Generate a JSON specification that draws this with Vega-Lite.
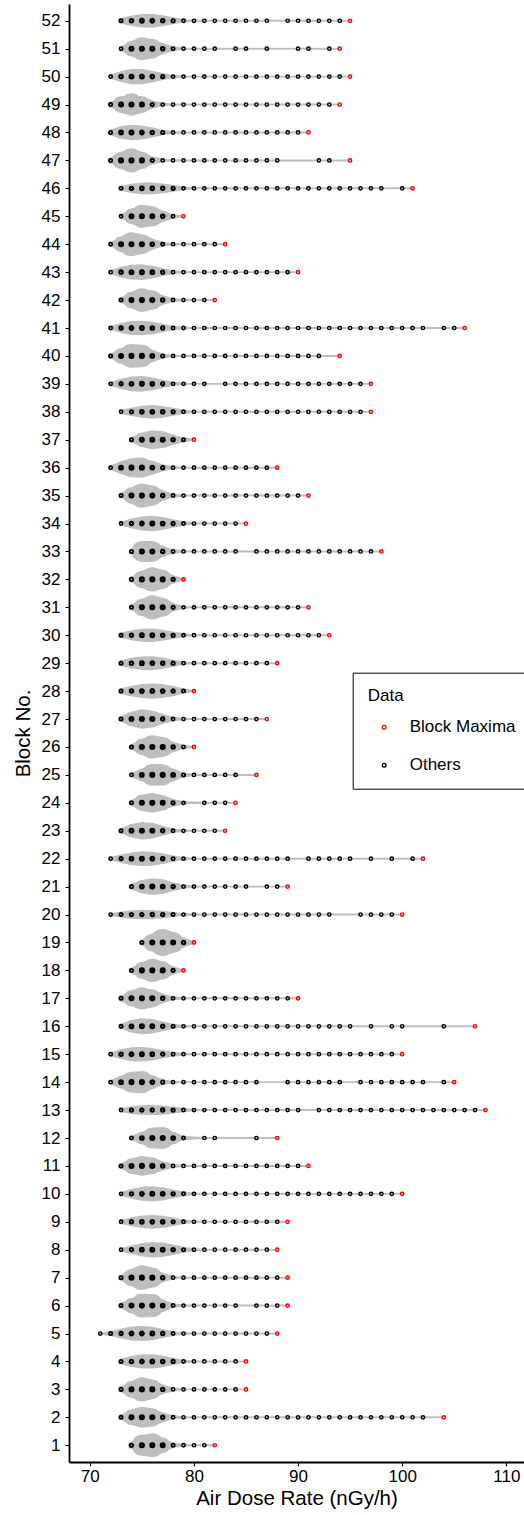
{
"$schema":"https://vega.github.io/schema/vega-lite/v6.json",
"width":455,"height":1458,
"autosize":{"type":"none"},
"padding":{"left":69,"top":4,"right":0,"bottom":53},
"config":{"view":{"stroke":null},"font":"Liberation Sans",
"axis":{"grid":false,"domainColor":"#000000","domainWidth":1.8,"tickColor":"#000000","tickWidth":1.1,"tickSize":4,"labelColor":"#000000","labelFontSize":17,"titleFontSize":20.5,"titleFontWeight":"normal","titleColor":"#000000","labelOverlap":false}},
"data":{"values":[
{"b":52,"v":73,"d":20,"m":0},{"b":52,"v":74,"d":38,"m":0},{"b":52,"v":75,"d":48,"m":0},{"b":52,"v":76,"d":50,"m":0},{"b":52,"v":77,"d":40,"m":0},{"b":52,"v":78,"d":25,"m":0},{"b":52,"v":79,"d":13,"m":0},{"b":52,"v":80,"d":8,"m":0},{"b":52,"v":81,"d":7,"m":0},{"b":52,"v":82,"d":7,"m":0},{"b":52,"v":83,"d":7,"m":0},{"b":52,"v":84,"d":7,"m":0},{"b":52,"v":85,"d":7,"m":0},{"b":52,"v":86,"d":7,"m":0},{"b":52,"v":87,"d":7,"m":0},{"b":52,"v":89,"d":7,"m":0},{"b":52,"v":90,"d":7,"m":0},{"b":52,"v":91,"d":7,"m":0},{"b":52,"v":92,"d":7,"m":0},{"b":52,"v":93,"d":7,"m":0},{"b":52,"v":94,"d":7,"m":0},{"b":52,"v":95,"d":7,"m":1},
{"b":51,"v":73,"d":15,"m":0},{"b":51,"v":74,"d":55,"m":0},{"b":51,"v":75,"d":82,"m":0},{"b":51,"v":76,"d":70,"m":0},{"b":51,"v":77,"d":40,"m":0},{"b":51,"v":78,"d":17,"m":0},{"b":51,"v":79,"d":9,"m":0},{"b":51,"v":80,"d":7,"m":0},{"b":51,"v":81,"d":7,"m":0},{"b":51,"v":82,"d":7,"m":0},{"b":51,"v":84,"d":7,"m":0},{"b":51,"v":85,"d":7,"m":0},{"b":51,"v":87,"d":7,"m":0},{"b":51,"v":90,"d":7,"m":0},{"b":51,"v":91,"d":7,"m":0},{"b":51,"v":93,"d":7,"m":0},{"b":51,"v":94,"d":7,"m":1},
{"b":50,"v":72,"d":15,"m":0},{"b":50,"v":73,"d":38,"m":0},{"b":50,"v":74,"d":55,"m":0},{"b":50,"v":75,"d":55,"m":0},{"b":50,"v":76,"d":42,"m":0},{"b":50,"v":77,"d":25,"m":0},{"b":50,"v":78,"d":12,"m":0},{"b":50,"v":79,"d":8,"m":0},{"b":50,"v":80,"d":7,"m":0},{"b":50,"v":81,"d":7,"m":0},{"b":50,"v":82,"d":7,"m":0},{"b":50,"v":83,"d":7,"m":0},{"b":50,"v":84,"d":7,"m":0},{"b":50,"v":85,"d":7,"m":0},{"b":50,"v":86,"d":7,"m":0},{"b":50,"v":87,"d":7,"m":0},{"b":50,"v":88,"d":7,"m":0},{"b":50,"v":89,"d":7,"m":0},{"b":50,"v":90,"d":7,"m":0},{"b":50,"v":91,"d":7,"m":0},{"b":50,"v":92,"d":7,"m":0},{"b":50,"v":93,"d":7,"m":0},{"b":50,"v":94,"d":7,"m":0},{"b":50,"v":95,"d":7,"m":1},
{"b":49,"v":72,"d":20,"m":0},{"b":49,"v":73,"d":60,"m":0},{"b":49,"v":74,"d":80,"m":0},{"b":49,"v":75,"d":60,"m":0},{"b":49,"v":76,"d":30,"m":0},{"b":49,"v":77,"d":12,"m":0},{"b":49,"v":78,"d":8,"m":0},{"b":49,"v":79,"d":7,"m":0},{"b":49,"v":80,"d":7,"m":0},{"b":49,"v":81,"d":7,"m":0},{"b":49,"v":82,"d":7,"m":0},{"b":49,"v":83,"d":7,"m":0},{"b":49,"v":84,"d":7,"m":0},{"b":49,"v":85,"d":7,"m":0},{"b":49,"v":86,"d":7,"m":0},{"b":49,"v":87,"d":7,"m":0},{"b":49,"v":88,"d":7,"m":0},{"b":49,"v":89,"d":7,"m":0},{"b":49,"v":90,"d":7,"m":0},{"b":49,"v":91,"d":7,"m":0},{"b":49,"v":92,"d":7,"m":0},{"b":49,"v":93,"d":7,"m":0},{"b":49,"v":94,"d":7,"m":1},
{"b":48,"v":72,"d":22,"m":0},{"b":48,"v":73,"d":45,"m":0},{"b":48,"v":74,"d":56,"m":0},{"b":48,"v":75,"d":50,"m":0},{"b":48,"v":76,"d":35,"m":0},{"b":48,"v":77,"d":20,"m":0},{"b":48,"v":78,"d":10,"m":0},{"b":48,"v":79,"d":7,"m":0},{"b":48,"v":80,"d":7,"m":0},{"b":48,"v":81,"d":7,"m":0},{"b":48,"v":82,"d":7,"m":0},{"b":48,"v":83,"d":7,"m":0},{"b":48,"v":84,"d":7,"m":0},{"b":48,"v":85,"d":7,"m":0},{"b":48,"v":86,"d":7,"m":0},{"b":48,"v":87,"d":7,"m":0},{"b":48,"v":88,"d":7,"m":0},{"b":48,"v":89,"d":7,"m":0},{"b":48,"v":90,"d":7,"m":0},{"b":48,"v":91,"d":7,"m":1},
{"b":47,"v":72,"d":20,"m":0},{"b":47,"v":73,"d":62,"m":0},{"b":47,"v":74,"d":86,"m":0},{"b":47,"v":75,"d":62,"m":0},{"b":47,"v":76,"d":30,"m":0},{"b":47,"v":77,"d":12,"m":0},{"b":47,"v":78,"d":8,"m":0},{"b":47,"v":79,"d":7,"m":0},{"b":47,"v":80,"d":7,"m":0},{"b":47,"v":81,"d":7,"m":0},{"b":47,"v":82,"d":7,"m":0},{"b":47,"v":83,"d":7,"m":0},{"b":47,"v":84,"d":7,"m":0},{"b":47,"v":85,"d":7,"m":0},{"b":47,"v":86,"d":7,"m":0},{"b":47,"v":87,"d":7,"m":0},{"b":47,"v":88,"d":7,"m":0},{"b":47,"v":92,"d":7,"m":0},{"b":47,"v":93,"d":7,"m":0},{"b":47,"v":95,"d":7,"m":1},
{"b":46,"v":73,"d":18,"m":0},{"b":46,"v":74,"d":33,"m":0},{"b":46,"v":75,"d":42,"m":0},{"b":46,"v":76,"d":42,"m":0},{"b":46,"v":77,"d":35,"m":0},{"b":46,"v":78,"d":24,"m":0},{"b":46,"v":79,"d":14,"m":0},{"b":46,"v":80,"d":9,"m":0},{"b":46,"v":81,"d":7,"m":0},{"b":46,"v":82,"d":7,"m":0},{"b":46,"v":83,"d":7,"m":0},{"b":46,"v":84,"d":7,"m":0},{"b":46,"v":85,"d":7,"m":0},{"b":46,"v":86,"d":7,"m":0},{"b":46,"v":87,"d":7,"m":0},{"b":46,"v":88,"d":7,"m":0},{"b":46,"v":89,"d":7,"m":0},{"b":46,"v":90,"d":7,"m":0},{"b":46,"v":91,"d":7,"m":0},{"b":46,"v":92,"d":7,"m":0},{"b":46,"v":93,"d":7,"m":0},{"b":46,"v":94,"d":7,"m":0},{"b":46,"v":95,"d":7,"m":0},{"b":46,"v":96,"d":7,"m":0},{"b":46,"v":97,"d":7,"m":0},{"b":46,"v":98,"d":7,"m":0},{"b":46,"v":100,"d":7,"m":0},{"b":46,"v":101,"d":7,"m":1},
{"b":45,"v":73,"d":15,"m":0},{"b":45,"v":74,"d":55,"m":0},{"b":45,"v":75,"d":82,"m":0},{"b":45,"v":76,"d":72,"m":0},{"b":45,"v":77,"d":42,"m":0},{"b":45,"v":78,"d":15,"m":0},{"b":45,"v":79,"d":7,"m":1},
{"b":44,"v":72,"d":15,"m":0},{"b":44,"v":73,"d":55,"m":0},{"b":44,"v":74,"d":86,"m":0},{"b":44,"v":75,"d":72,"m":0},{"b":44,"v":76,"d":40,"m":0},{"b":44,"v":77,"d":17,"m":0},{"b":44,"v":78,"d":9,"m":0},{"b":44,"v":79,"d":7,"m":0},{"b":44,"v":80,"d":7,"m":0},{"b":44,"v":81,"d":7,"m":0},{"b":44,"v":82,"d":7,"m":0},{"b":44,"v":83,"d":7,"m":1},
{"b":43,"v":72,"d":15,"m":0},{"b":43,"v":73,"d":38,"m":0},{"b":43,"v":74,"d":53,"m":0},{"b":43,"v":75,"d":56,"m":0},{"b":43,"v":76,"d":45,"m":0},{"b":43,"v":77,"d":28,"m":0},{"b":43,"v":78,"d":13,"m":0},{"b":43,"v":79,"d":8,"m":0},{"b":43,"v":80,"d":7,"m":0},{"b":43,"v":81,"d":7,"m":0},{"b":43,"v":82,"d":7,"m":0},{"b":43,"v":83,"d":7,"m":0},{"b":43,"v":84,"d":7,"m":0},{"b":43,"v":85,"d":7,"m":0},{"b":43,"v":86,"d":7,"m":0},{"b":43,"v":87,"d":7,"m":0},{"b":43,"v":88,"d":7,"m":0},{"b":43,"v":89,"d":7,"m":0},{"b":43,"v":90,"d":7,"m":1},
{"b":42,"v":73,"d":20,"m":0},{"b":42,"v":74,"d":60,"m":0},{"b":42,"v":75,"d":85,"m":0},{"b":42,"v":76,"d":70,"m":0},{"b":42,"v":77,"d":35,"m":0},{"b":42,"v":78,"d":14,"m":0},{"b":42,"v":79,"d":8,"m":0},{"b":42,"v":80,"d":7,"m":0},{"b":42,"v":81,"d":7,"m":0},{"b":42,"v":82,"d":7,"m":1},
{"b":41,"v":72,"d":15,"m":0},{"b":41,"v":73,"d":35,"m":0},{"b":41,"v":74,"d":50,"m":0},{"b":41,"v":75,"d":52,"m":0},{"b":41,"v":76,"d":45,"m":0},{"b":41,"v":77,"d":30,"m":0},{"b":41,"v":78,"d":16,"m":0},{"b":41,"v":79,"d":9,"m":0},{"b":41,"v":80,"d":7,"m":0},{"b":41,"v":81,"d":7,"m":0},{"b":41,"v":82,"d":7,"m":0},{"b":41,"v":83,"d":7,"m":0},{"b":41,"v":84,"d":7,"m":0},{"b":41,"v":85,"d":7,"m":0},{"b":41,"v":86,"d":7,"m":0},{"b":41,"v":87,"d":7,"m":0},{"b":41,"v":88,"d":7,"m":0},{"b":41,"v":89,"d":7,"m":0},{"b":41,"v":90,"d":7,"m":0},{"b":41,"v":91,"d":7,"m":0},{"b":41,"v":92,"d":7,"m":0},{"b":41,"v":93,"d":7,"m":0},{"b":41,"v":94,"d":7,"m":0},{"b":41,"v":95,"d":7,"m":0},{"b":41,"v":96,"d":7,"m":0},{"b":41,"v":97,"d":7,"m":0},{"b":41,"v":98,"d":7,"m":0},{"b":41,"v":99,"d":7,"m":0},{"b":41,"v":100,"d":7,"m":0},{"b":41,"v":101,"d":7,"m":0},{"b":41,"v":102,"d":7,"m":0},{"b":41,"v":104,"d":7,"m":0},{"b":41,"v":105,"d":7,"m":0},{"b":41,"v":106,"d":7,"m":1},
{"b":40,"v":72,"d":18,"m":0},{"b":40,"v":73,"d":55,"m":0},{"b":40,"v":74,"d":85,"m":0},{"b":40,"v":75,"d":80,"m":0},{"b":40,"v":76,"d":45,"m":0},{"b":40,"v":77,"d":18,"m":0},{"b":40,"v":78,"d":9,"m":0},{"b":40,"v":79,"d":7,"m":0},{"b":40,"v":80,"d":7,"m":0},{"b":40,"v":81,"d":7,"m":0},{"b":40,"v":82,"d":7,"m":0},{"b":40,"v":83,"d":7,"m":0},{"b":40,"v":84,"d":7,"m":0},{"b":40,"v":85,"d":7,"m":0},{"b":40,"v":86,"d":7,"m":0},{"b":40,"v":87,"d":7,"m":0},{"b":40,"v":88,"d":7,"m":0},{"b":40,"v":89,"d":7,"m":0},{"b":40,"v":90,"d":7,"m":0},{"b":40,"v":91,"d":7,"m":0},{"b":40,"v":92,"d":7,"m":0},{"b":40,"v":94,"d":7,"m":1},
{"b":39,"v":72,"d":15,"m":0},{"b":39,"v":73,"d":36,"m":0},{"b":39,"v":74,"d":52,"m":0},{"b":39,"v":75,"d":56,"m":0},{"b":39,"v":76,"d":46,"m":0},{"b":39,"v":77,"d":30,"m":0},{"b":39,"v":78,"d":15,"m":0},{"b":39,"v":79,"d":8,"m":0},{"b":39,"v":80,"d":7,"m":0},{"b":39,"v":81,"d":7,"m":0},{"b":39,"v":83,"d":7,"m":0},{"b":39,"v":84,"d":7,"m":0},{"b":39,"v":85,"d":7,"m":0},{"b":39,"v":86,"d":7,"m":0},{"b":39,"v":87,"d":7,"m":0},{"b":39,"v":88,"d":7,"m":0},{"b":39,"v":89,"d":7,"m":0},{"b":39,"v":90,"d":7,"m":0},{"b":39,"v":91,"d":7,"m":0},{"b":39,"v":92,"d":7,"m":0},{"b":39,"v":93,"d":7,"m":0},{"b":39,"v":94,"d":7,"m":0},{"b":39,"v":95,"d":7,"m":0},{"b":39,"v":96,"d":7,"m":0},{"b":39,"v":97,"d":7,"m":1},
{"b":38,"v":73,"d":15,"m":0},{"b":38,"v":74,"d":30,"m":0},{"b":38,"v":75,"d":43,"m":0},{"b":38,"v":76,"d":48,"m":0},{"b":38,"v":77,"d":42,"m":0},{"b":38,"v":78,"d":28,"m":0},{"b":38,"v":79,"d":15,"m":0},{"b":38,"v":80,"d":8,"m":0},{"b":38,"v":81,"d":7,"m":0},{"b":38,"v":82,"d":7,"m":0},{"b":38,"v":83,"d":7,"m":0},{"b":38,"v":84,"d":7,"m":0},{"b":38,"v":85,"d":7,"m":0},{"b":38,"v":86,"d":7,"m":0},{"b":38,"v":87,"d":7,"m":0},{"b":38,"v":88,"d":7,"m":0},{"b":38,"v":89,"d":7,"m":0},{"b":38,"v":90,"d":7,"m":0},{"b":38,"v":91,"d":7,"m":0},{"b":38,"v":92,"d":7,"m":0},{"b":38,"v":93,"d":7,"m":0},{"b":38,"v":94,"d":7,"m":0},{"b":38,"v":95,"d":7,"m":0},{"b":38,"v":96,"d":7,"m":0},{"b":38,"v":97,"d":7,"m":1},
{"b":37,"v":74,"d":20,"m":0},{"b":37,"v":75,"d":52,"m":0},{"b":37,"v":76,"d":68,"m":0},{"b":37,"v":77,"d":60,"m":0},{"b":37,"v":78,"d":38,"m":0},{"b":37,"v":79,"d":18,"m":0},{"b":37,"v":80,"d":7,"m":1},
{"b":36,"v":72,"d":15,"m":0},{"b":36,"v":73,"d":45,"m":0},{"b":36,"v":74,"d":68,"m":0},{"b":36,"v":75,"d":72,"m":0},{"b":36,"v":76,"d":50,"m":0},{"b":36,"v":77,"d":25,"m":0},{"b":36,"v":78,"d":11,"m":0},{"b":36,"v":79,"d":7,"m":0},{"b":36,"v":80,"d":7,"m":0},{"b":36,"v":81,"d":7,"m":0},{"b":36,"v":82,"d":7,"m":0},{"b":36,"v":83,"d":7,"m":0},{"b":36,"v":84,"d":7,"m":0},{"b":36,"v":85,"d":7,"m":0},{"b":36,"v":86,"d":7,"m":0},{"b":36,"v":87,"d":7,"m":0},{"b":36,"v":88,"d":7,"m":1},
{"b":35,"v":73,"d":18,"m":0},{"b":35,"v":74,"d":60,"m":0},{"b":35,"v":75,"d":87,"m":0},{"b":35,"v":76,"d":72,"m":0},{"b":35,"v":77,"d":38,"m":0},{"b":35,"v":78,"d":15,"m":0},{"b":35,"v":79,"d":8,"m":0},{"b":35,"v":80,"d":7,"m":0},{"b":35,"v":81,"d":7,"m":0},{"b":35,"v":82,"d":7,"m":0},{"b":35,"v":83,"d":7,"m":0},{"b":35,"v":84,"d":7,"m":0},{"b":35,"v":85,"d":7,"m":0},{"b":35,"v":86,"d":7,"m":0},{"b":35,"v":87,"d":7,"m":0},{"b":35,"v":88,"d":7,"m":0},{"b":35,"v":89,"d":7,"m":0},{"b":35,"v":90,"d":7,"m":0},{"b":35,"v":91,"d":7,"m":1},
{"b":34,"v":73,"d":15,"m":0},{"b":34,"v":74,"d":36,"m":0},{"b":34,"v":75,"d":50,"m":0},{"b":34,"v":76,"d":55,"m":0},{"b":34,"v":77,"d":47,"m":0},{"b":34,"v":78,"d":30,"m":0},{"b":34,"v":79,"d":16,"m":0},{"b":34,"v":80,"d":9,"m":0},{"b":34,"v":81,"d":7,"m":0},{"b":34,"v":82,"d":7,"m":0},{"b":34,"v":83,"d":7,"m":0},{"b":34,"v":84,"d":7,"m":0},{"b":34,"v":85,"d":7,"m":1},
{"b":33,"v":74,"d":20,"m":0},{"b":33,"v":75,"d":75,"m":0},{"b":33,"v":76,"d":75,"m":0},{"b":33,"v":77,"d":40,"m":0},{"b":33,"v":78,"d":16,"m":0},{"b":33,"v":79,"d":8,"m":0},{"b":33,"v":80,"d":7,"m":0},{"b":33,"v":81,"d":7,"m":0},{"b":33,"v":82,"d":7,"m":0},{"b":33,"v":83,"d":7,"m":0},{"b":33,"v":84,"d":7,"m":0},{"b":33,"v":86,"d":7,"m":0},{"b":33,"v":87,"d":7,"m":0},{"b":33,"v":88,"d":7,"m":0},{"b":33,"v":89,"d":7,"m":0},{"b":33,"v":90,"d":7,"m":0},{"b":33,"v":91,"d":7,"m":0},{"b":33,"v":92,"d":7,"m":0},{"b":33,"v":93,"d":7,"m":0},{"b":33,"v":94,"d":7,"m":0},{"b":33,"v":95,"d":7,"m":0},{"b":33,"v":96,"d":7,"m":0},{"b":33,"v":97,"d":7,"m":0},{"b":33,"v":98,"d":7,"m":1},
{"b":32,"v":74,"d":20,"m":0},{"b":32,"v":75,"d":62,"m":0},{"b":32,"v":76,"d":87,"m":0},{"b":32,"v":77,"d":68,"m":0},{"b":32,"v":78,"d":30,"m":0},{"b":32,"v":79,"d":9,"m":1},
{"b":31,"v":74,"d":20,"m":0},{"b":31,"v":75,"d":62,"m":0},{"b":31,"v":76,"d":87,"m":0},{"b":31,"v":77,"d":68,"m":0},{"b":31,"v":78,"d":30,"m":0},{"b":31,"v":79,"d":10,"m":0},{"b":31,"v":80,"d":7,"m":0},{"b":31,"v":81,"d":7,"m":0},{"b":31,"v":82,"d":7,"m":0},{"b":31,"v":83,"d":7,"m":0},{"b":31,"v":84,"d":7,"m":0},{"b":31,"v":85,"d":7,"m":0},{"b":31,"v":86,"d":7,"m":0},{"b":31,"v":87,"d":7,"m":0},{"b":31,"v":88,"d":7,"m":0},{"b":31,"v":89,"d":7,"m":0},{"b":31,"v":90,"d":7,"m":0},{"b":31,"v":91,"d":7,"m":1},
{"b":30,"v":73,"d":20,"m":0},{"b":30,"v":74,"d":36,"m":0},{"b":30,"v":75,"d":46,"m":0},{"b":30,"v":76,"d":48,"m":0},{"b":30,"v":77,"d":40,"m":0},{"b":30,"v":78,"d":26,"m":0},{"b":30,"v":79,"d":14,"m":0},{"b":30,"v":80,"d":8,"m":0},{"b":30,"v":81,"d":7,"m":0},{"b":30,"v":82,"d":7,"m":0},{"b":30,"v":83,"d":7,"m":0},{"b":30,"v":84,"d":7,"m":0},{"b":30,"v":85,"d":7,"m":0},{"b":30,"v":86,"d":7,"m":0},{"b":30,"v":87,"d":7,"m":0},{"b":30,"v":88,"d":7,"m":0},{"b":30,"v":89,"d":7,"m":0},{"b":30,"v":90,"d":7,"m":0},{"b":30,"v":91,"d":7,"m":0},{"b":30,"v":92,"d":7,"m":0},{"b":30,"v":93,"d":7,"m":1},
{"b":29,"v":73,"d":20,"m":0},{"b":29,"v":74,"d":38,"m":0},{"b":29,"v":75,"d":48,"m":0},{"b":29,"v":76,"d":50,"m":0},{"b":29,"v":77,"d":40,"m":0},{"b":29,"v":78,"d":25,"m":0},{"b":29,"v":79,"d":12,"m":0},{"b":29,"v":80,"d":7,"m":0},{"b":29,"v":81,"d":7,"m":0},{"b":29,"v":82,"d":7,"m":0},{"b":29,"v":83,"d":7,"m":0},{"b":29,"v":84,"d":7,"m":0},{"b":29,"v":85,"d":7,"m":0},{"b":29,"v":86,"d":7,"m":0},{"b":29,"v":87,"d":7,"m":0},{"b":29,"v":88,"d":7,"m":1},
{"b":28,"v":73,"d":20,"m":0},{"b":28,"v":74,"d":38,"m":0},{"b":28,"v":75,"d":50,"m":0},{"b":28,"v":76,"d":54,"m":0},{"b":28,"v":77,"d":50,"m":0},{"b":28,"v":78,"d":36,"m":0},{"b":28,"v":79,"d":18,"m":0},{"b":28,"v":80,"d":7,"m":1},
{"b":27,"v":73,"d":20,"m":0},{"b":27,"v":74,"d":52,"m":0},{"b":27,"v":75,"d":69,"m":0},{"b":27,"v":76,"d":60,"m":0},{"b":27,"v":77,"d":36,"m":0},{"b":27,"v":78,"d":16,"m":0},{"b":27,"v":79,"d":8,"m":0},{"b":27,"v":80,"d":7,"m":0},{"b":27,"v":81,"d":7,"m":0},{"b":27,"v":82,"d":7,"m":0},{"b":27,"v":83,"d":7,"m":0},{"b":27,"v":84,"d":7,"m":0},{"b":27,"v":85,"d":7,"m":0},{"b":27,"v":86,"d":7,"m":0},{"b":27,"v":87,"d":7,"m":1},
{"b":26,"v":74,"d":20,"m":0},{"b":26,"v":75,"d":58,"m":0},{"b":26,"v":76,"d":83,"m":0},{"b":26,"v":77,"d":72,"m":0},{"b":26,"v":78,"d":38,"m":0},{"b":26,"v":79,"d":14,"m":0},{"b":26,"v":80,"d":7,"m":1},
{"b":25,"v":74,"d":15,"m":0},{"b":25,"v":75,"d":45,"m":0},{"b":25,"v":76,"d":78,"m":0},{"b":25,"v":77,"d":76,"m":0},{"b":25,"v":78,"d":45,"m":0},{"b":25,"v":79,"d":18,"m":0},{"b":25,"v":80,"d":8,"m":0},{"b":25,"v":81,"d":7,"m":0},{"b":25,"v":82,"d":7,"m":0},{"b":25,"v":83,"d":7,"m":0},{"b":25,"v":84,"d":7,"m":0},{"b":25,"v":86,"d":7,"m":1},
{"b":24,"v":74,"d":20,"m":0},{"b":24,"v":75,"d":58,"m":0},{"b":24,"v":76,"d":71,"m":0},{"b":24,"v":77,"d":55,"m":0},{"b":24,"v":78,"d":28,"m":0},{"b":24,"v":79,"d":11,"m":0},{"b":24,"v":81,"d":7,"m":0},{"b":24,"v":82,"d":7,"m":0},{"b":24,"v":83,"d":7,"m":0},{"b":24,"v":84,"d":7,"m":1},
{"b":23,"v":73,"d":20,"m":0},{"b":23,"v":74,"d":48,"m":0},{"b":23,"v":75,"d":62,"m":0},{"b":23,"v":76,"d":55,"m":0},{"b":23,"v":77,"d":35,"m":0},{"b":23,"v":78,"d":16,"m":0},{"b":23,"v":79,"d":8,"m":0},{"b":23,"v":80,"d":7,"m":0},{"b":23,"v":81,"d":7,"m":0},{"b":23,"v":82,"d":7,"m":0},{"b":23,"v":83,"d":7,"m":1},
{"b":22,"v":72,"d":12,"m":0},{"b":22,"v":73,"d":30,"m":0},{"b":22,"v":74,"d":45,"m":0},{"b":22,"v":75,"d":53,"m":0},{"b":22,"v":76,"d":50,"m":0},{"b":22,"v":77,"d":38,"m":0},{"b":22,"v":78,"d":22,"m":0},{"b":22,"v":79,"d":12,"m":0},{"b":22,"v":80,"d":8,"m":0},{"b":22,"v":81,"d":7,"m":0},{"b":22,"v":82,"d":7,"m":0},{"b":22,"v":83,"d":7,"m":0},{"b":22,"v":84,"d":7,"m":0},{"b":22,"v":85,"d":7,"m":0},{"b":22,"v":86,"d":7,"m":0},{"b":22,"v":87,"d":7,"m":0},{"b":22,"v":88,"d":7,"m":0},{"b":22,"v":89,"d":7,"m":0},{"b":22,"v":91,"d":7,"m":0},{"b":22,"v":92,"d":7,"m":0},{"b":22,"v":93,"d":7,"m":0},{"b":22,"v":94,"d":7,"m":0},{"b":22,"v":95,"d":7,"m":0},{"b":22,"v":97,"d":7,"m":0},{"b":22,"v":99,"d":7,"m":0},{"b":22,"v":101,"d":7,"m":0},{"b":22,"v":102,"d":7,"m":1},
{"b":21,"v":74,"d":20,"m":0},{"b":21,"v":75,"d":48,"m":0},{"b":21,"v":76,"d":60,"m":0},{"b":21,"v":77,"d":52,"m":0},{"b":21,"v":78,"d":32,"m":0},{"b":21,"v":79,"d":15,"m":0},{"b":21,"v":80,"d":8,"m":0},{"b":21,"v":81,"d":7,"m":0},{"b":21,"v":82,"d":7,"m":0},{"b":21,"v":83,"d":7,"m":0},{"b":21,"v":84,"d":7,"m":0},{"b":21,"v":85,"d":7,"m":0},{"b":21,"v":87,"d":7,"m":0},{"b":21,"v":88,"d":7,"m":0},{"b":21,"v":89,"d":7,"m":1},
{"b":20,"v":72,"d":10,"m":0},{"b":20,"v":73,"d":22,"m":0},{"b":20,"v":74,"d":30,"m":0},{"b":20,"v":75,"d":34,"m":0},{"b":20,"v":76,"d":33,"m":0},{"b":20,"v":77,"d":27,"m":0},{"b":20,"v":78,"d":18,"m":0},{"b":20,"v":79,"d":11,"m":0},{"b":20,"v":80,"d":8,"m":0},{"b":20,"v":81,"d":7,"m":0},{"b":20,"v":82,"d":7,"m":0},{"b":20,"v":83,"d":7,"m":0},{"b":20,"v":84,"d":7,"m":0},{"b":20,"v":85,"d":7,"m":0},{"b":20,"v":86,"d":7,"m":0},{"b":20,"v":87,"d":7,"m":0},{"b":20,"v":88,"d":7,"m":0},{"b":20,"v":89,"d":7,"m":0},{"b":20,"v":90,"d":7,"m":0},{"b":20,"v":91,"d":7,"m":0},{"b":20,"v":92,"d":7,"m":0},{"b":20,"v":93,"d":7,"m":0},{"b":20,"v":96,"d":7,"m":0},{"b":20,"v":97,"d":7,"m":0},{"b":20,"v":98,"d":7,"m":0},{"b":20,"v":99,"d":7,"m":0},{"b":20,"v":100,"d":7,"m":1},
{"b":19,"v":75,"d":20,"m":0},{"b":19,"v":76,"d":65,"m":0},{"b":19,"v":77,"d":97,"m":0},{"b":19,"v":78,"d":75,"m":0},{"b":19,"v":79,"d":35,"m":0},{"b":19,"v":80,"d":10,"m":1},
{"b":18,"v":74,"d":20,"m":0},{"b":18,"v":75,"d":60,"m":0},{"b":18,"v":76,"d":83,"m":0},{"b":18,"v":77,"d":65,"m":0},{"b":18,"v":78,"d":30,"m":0},{"b":18,"v":79,"d":9,"m":1},
{"b":17,"v":73,"d":20,"m":0},{"b":17,"v":74,"d":58,"m":0},{"b":17,"v":75,"d":80,"m":0},{"b":17,"v":76,"d":65,"m":0},{"b":17,"v":77,"d":35,"m":0},{"b":17,"v":78,"d":14,"m":0},{"b":17,"v":79,"d":8,"m":0},{"b":17,"v":80,"d":7,"m":0},{"b":17,"v":81,"d":7,"m":0},{"b":17,"v":82,"d":7,"m":0},{"b":17,"v":83,"d":7,"m":0},{"b":17,"v":84,"d":7,"m":0},{"b":17,"v":85,"d":7,"m":0},{"b":17,"v":86,"d":7,"m":0},{"b":17,"v":87,"d":7,"m":0},{"b":17,"v":88,"d":7,"m":0},{"b":17,"v":89,"d":7,"m":0},{"b":17,"v":90,"d":7,"m":1},
{"b":16,"v":73,"d":18,"m":0},{"b":16,"v":74,"d":45,"m":0},{"b":16,"v":75,"d":57,"m":0},{"b":16,"v":76,"d":52,"m":0},{"b":16,"v":77,"d":35,"m":0},{"b":16,"v":78,"d":18,"m":0},{"b":16,"v":79,"d":9,"m":0},{"b":16,"v":80,"d":7,"m":0},{"b":16,"v":81,"d":7,"m":0},{"b":16,"v":82,"d":7,"m":0},{"b":16,"v":83,"d":7,"m":0},{"b":16,"v":84,"d":7,"m":0},{"b":16,"v":85,"d":7,"m":0},{"b":16,"v":86,"d":7,"m":0},{"b":16,"v":87,"d":7,"m":0},{"b":16,"v":88,"d":7,"m":0},{"b":16,"v":89,"d":7,"m":0},{"b":16,"v":90,"d":7,"m":0},{"b":16,"v":91,"d":7,"m":0},{"b":16,"v":92,"d":7,"m":0},{"b":16,"v":93,"d":7,"m":0},{"b":16,"v":94,"d":7,"m":0},{"b":16,"v":95,"d":7,"m":0},{"b":16,"v":97,"d":7,"m":0},{"b":16,"v":99,"d":7,"m":0},{"b":16,"v":100,"d":7,"m":0},{"b":16,"v":104,"d":7,"m":0},{"b":16,"v":107,"d":7,"m":1},
{"b":15,"v":72,"d":15,"m":0},{"b":15,"v":73,"d":35,"m":0},{"b":15,"v":74,"d":50,"m":0},{"b":15,"v":75,"d":52,"m":0},{"b":15,"v":76,"d":45,"m":0},{"b":15,"v":77,"d":30,"m":0},{"b":15,"v":78,"d":16,"m":0},{"b":15,"v":79,"d":9,"m":0},{"b":15,"v":80,"d":7,"m":0},{"b":15,"v":81,"d":7,"m":0},{"b":15,"v":82,"d":7,"m":0},{"b":15,"v":83,"d":7,"m":0},{"b":15,"v":84,"d":7,"m":0},{"b":15,"v":85,"d":7,"m":0},{"b":15,"v":86,"d":7,"m":0},{"b":15,"v":87,"d":7,"m":0},{"b":15,"v":88,"d":7,"m":0},{"b":15,"v":89,"d":7,"m":0},{"b":15,"v":90,"d":7,"m":0},{"b":15,"v":91,"d":7,"m":0},{"b":15,"v":92,"d":7,"m":0},{"b":15,"v":93,"d":7,"m":0},{"b":15,"v":94,"d":7,"m":0},{"b":15,"v":95,"d":7,"m":0},{"b":15,"v":96,"d":7,"m":0},{"b":15,"v":97,"d":7,"m":0},{"b":15,"v":98,"d":7,"m":0},{"b":15,"v":99,"d":7,"m":0},{"b":15,"v":100,"d":7,"m":1},
{"b":14,"v":72,"d":15,"m":0},{"b":14,"v":73,"d":45,"m":0},{"b":14,"v":74,"d":75,"m":0},{"b":14,"v":75,"d":80,"m":0},{"b":14,"v":76,"d":50,"m":0},{"b":14,"v":77,"d":20,"m":0},{"b":14,"v":78,"d":9,"m":0},{"b":14,"v":79,"d":7,"m":0},{"b":14,"v":80,"d":7,"m":0},{"b":14,"v":81,"d":7,"m":0},{"b":14,"v":82,"d":7,"m":0},{"b":14,"v":83,"d":7,"m":0},{"b":14,"v":84,"d":7,"m":0},{"b":14,"v":85,"d":7,"m":0},{"b":14,"v":86,"d":7,"m":0},{"b":14,"v":89,"d":7,"m":0},{"b":14,"v":90,"d":7,"m":0},{"b":14,"v":91,"d":7,"m":0},{"b":14,"v":92,"d":7,"m":0},{"b":14,"v":93,"d":7,"m":0},{"b":14,"v":94,"d":7,"m":0},{"b":14,"v":96,"d":7,"m":0},{"b":14,"v":97,"d":7,"m":0},{"b":14,"v":98,"d":7,"m":0},{"b":14,"v":99,"d":7,"m":0},{"b":14,"v":100,"d":7,"m":0},{"b":14,"v":101,"d":7,"m":0},{"b":14,"v":102,"d":7,"m":0},{"b":14,"v":104,"d":7,"m":0},{"b":14,"v":105,"d":7,"m":1},
{"b":13,"v":73,"d":15,"m":0},{"b":13,"v":74,"d":28,"m":0},{"b":13,"v":75,"d":34,"m":0},{"b":13,"v":76,"d":36,"m":0},{"b":13,"v":77,"d":33,"m":0},{"b":13,"v":78,"d":25,"m":0},{"b":13,"v":79,"d":15,"m":0},{"b":13,"v":80,"d":9,"m":0},{"b":13,"v":81,"d":7,"m":0},{"b":13,"v":82,"d":7,"m":0},{"b":13,"v":83,"d":7,"m":0},{"b":13,"v":84,"d":7,"m":0},{"b":13,"v":85,"d":7,"m":0},{"b":13,"v":86,"d":7,"m":0},{"b":13,"v":87,"d":7,"m":0},{"b":13,"v":88,"d":7,"m":0},{"b":13,"v":89,"d":7,"m":0},{"b":13,"v":90,"d":7,"m":0},{"b":13,"v":92,"d":7,"m":0},{"b":13,"v":93,"d":7,"m":0},{"b":13,"v":94,"d":7,"m":0},{"b":13,"v":95,"d":7,"m":0},{"b":13,"v":96,"d":7,"m":0},{"b":13,"v":97,"d":7,"m":0},{"b":13,"v":98,"d":7,"m":0},{"b":13,"v":99,"d":7,"m":0},{"b":13,"v":100,"d":7,"m":0},{"b":13,"v":101,"d":7,"m":0},{"b":13,"v":102,"d":7,"m":0},{"b":13,"v":103,"d":7,"m":0},{"b":13,"v":104,"d":7,"m":0},{"b":13,"v":105,"d":7,"m":0},{"b":13,"v":106,"d":7,"m":0},{"b":13,"v":107,"d":7,"m":0},{"b":13,"v":108,"d":7,"m":1},
{"b":12,"v":74,"d":15,"m":0},{"b":12,"v":75,"d":45,"m":0},{"b":12,"v":76,"d":75,"m":0},{"b":12,"v":77,"d":78,"m":0},{"b":12,"v":78,"d":45,"m":0},{"b":12,"v":79,"d":15,"m":0},{"b":12,"v":81,"d":7,"m":0},{"b":12,"v":82,"d":7,"m":0},{"b":12,"v":86,"d":7,"m":0},{"b":12,"v":88,"d":7,"m":1},
{"b":11,"v":73,"d":20,"m":0},{"b":11,"v":74,"d":55,"m":0},{"b":11,"v":75,"d":71,"m":0},{"b":11,"v":76,"d":60,"m":0},{"b":11,"v":77,"d":33,"m":0},{"b":11,"v":78,"d":14,"m":0},{"b":11,"v":79,"d":8,"m":0},{"b":11,"v":80,"d":7,"m":0},{"b":11,"v":81,"d":7,"m":0},{"b":11,"v":82,"d":7,"m":0},{"b":11,"v":83,"d":7,"m":0},{"b":11,"v":84,"d":7,"m":0},{"b":11,"v":85,"d":7,"m":0},{"b":11,"v":86,"d":7,"m":0},{"b":11,"v":87,"d":7,"m":0},{"b":11,"v":88,"d":7,"m":0},{"b":11,"v":89,"d":7,"m":0},{"b":11,"v":90,"d":7,"m":0},{"b":11,"v":91,"d":7,"m":1},
{"b":10,"v":73,"d":15,"m":0},{"b":10,"v":74,"d":35,"m":0},{"b":10,"v":75,"d":50,"m":0},{"b":10,"v":76,"d":55,"m":0},{"b":10,"v":77,"d":48,"m":0},{"b":10,"v":78,"d":32,"m":0},{"b":10,"v":79,"d":17,"m":0},{"b":10,"v":80,"d":9,"m":0},{"b":10,"v":81,"d":7,"m":0},{"b":10,"v":82,"d":7,"m":0},{"b":10,"v":83,"d":7,"m":0},{"b":10,"v":84,"d":7,"m":0},{"b":10,"v":85,"d":7,"m":0},{"b":10,"v":86,"d":7,"m":0},{"b":10,"v":87,"d":7,"m":0},{"b":10,"v":88,"d":7,"m":0},{"b":10,"v":89,"d":7,"m":0},{"b":10,"v":90,"d":7,"m":0},{"b":10,"v":91,"d":7,"m":0},{"b":10,"v":92,"d":7,"m":0},{"b":10,"v":93,"d":7,"m":0},{"b":10,"v":94,"d":7,"m":0},{"b":10,"v":95,"d":7,"m":0},{"b":10,"v":96,"d":7,"m":0},{"b":10,"v":97,"d":7,"m":0},{"b":10,"v":98,"d":7,"m":0},{"b":10,"v":99,"d":7,"m":0},{"b":10,"v":100,"d":7,"m":1},
{"b":9,"v":73,"d":15,"m":0},{"b":9,"v":74,"d":32,"m":0},{"b":9,"v":75,"d":45,"m":0},{"b":9,"v":76,"d":49,"m":0},{"b":9,"v":77,"d":44,"m":0},{"b":9,"v":78,"d":30,"m":0},{"b":9,"v":79,"d":16,"m":0},{"b":9,"v":80,"d":9,"m":0},{"b":9,"v":81,"d":7,"m":0},{"b":9,"v":82,"d":7,"m":0},{"b":9,"v":83,"d":7,"m":0},{"b":9,"v":84,"d":7,"m":0},{"b":9,"v":85,"d":7,"m":0},{"b":9,"v":86,"d":7,"m":0},{"b":9,"v":87,"d":7,"m":0},{"b":9,"v":88,"d":7,"m":0},{"b":9,"v":89,"d":7,"m":1},
{"b":8,"v":73,"d":12,"m":0},{"b":8,"v":74,"d":30,"m":0},{"b":8,"v":75,"d":48,"m":0},{"b":8,"v":76,"d":56,"m":0},{"b":8,"v":77,"d":52,"m":0},{"b":8,"v":78,"d":38,"m":0},{"b":8,"v":79,"d":22,"m":0},{"b":8,"v":80,"d":11,"m":0},{"b":8,"v":81,"d":7,"m":0},{"b":8,"v":82,"d":7,"m":0},{"b":8,"v":83,"d":7,"m":0},{"b":8,"v":84,"d":7,"m":0},{"b":8,"v":85,"d":7,"m":0},{"b":8,"v":86,"d":7,"m":0},{"b":8,"v":87,"d":7,"m":0},{"b":8,"v":88,"d":7,"m":1},
{"b":7,"v":73,"d":20,"m":0},{"b":7,"v":74,"d":62,"m":0},{"b":7,"v":75,"d":89,"m":0},{"b":7,"v":76,"d":72,"m":0},{"b":7,"v":77,"d":35,"m":0},{"b":7,"v":78,"d":12,"m":0},{"b":7,"v":79,"d":7,"m":0},{"b":7,"v":80,"d":7,"m":0},{"b":7,"v":81,"d":7,"m":0},{"b":7,"v":82,"d":7,"m":0},{"b":7,"v":83,"d":7,"m":0},{"b":7,"v":84,"d":7,"m":0},{"b":7,"v":85,"d":7,"m":0},{"b":7,"v":86,"d":7,"m":0},{"b":7,"v":87,"d":7,"m":0},{"b":7,"v":88,"d":7,"m":0},{"b":7,"v":89,"d":7,"m":1},
{"b":6,"v":73,"d":20,"m":0},{"b":6,"v":74,"d":55,"m":0},{"b":6,"v":75,"d":85,"m":0},{"b":6,"v":76,"d":82,"m":0},{"b":6,"v":77,"d":45,"m":0},{"b":6,"v":78,"d":16,"m":0},{"b":6,"v":79,"d":8,"m":0},{"b":6,"v":80,"d":7,"m":0},{"b":6,"v":81,"d":7,"m":0},{"b":6,"v":82,"d":7,"m":0},{"b":6,"v":83,"d":7,"m":0},{"b":6,"v":84,"d":7,"m":0},{"b":6,"v":86,"d":7,"m":0},{"b":6,"v":87,"d":7,"m":0},{"b":6,"v":88,"d":7,"m":0},{"b":6,"v":89,"d":7,"m":1},
{"b":5,"v":71,"d":8,"m":0},{"b":5,"v":72,"d":18,"m":0},{"b":5,"v":73,"d":36,"m":0},{"b":5,"v":74,"d":50,"m":0},{"b":5,"v":75,"d":54,"m":0},{"b":5,"v":76,"d":48,"m":0},{"b":5,"v":77,"d":32,"m":0},{"b":5,"v":78,"d":17,"m":0},{"b":5,"v":79,"d":9,"m":0},{"b":5,"v":80,"d":7,"m":0},{"b":5,"v":81,"d":7,"m":0},{"b":5,"v":82,"d":7,"m":0},{"b":5,"v":83,"d":7,"m":0},{"b":5,"v":84,"d":7,"m":0},{"b":5,"v":85,"d":7,"m":0},{"b":5,"v":86,"d":7,"m":0},{"b":5,"v":87,"d":7,"m":0},{"b":5,"v":88,"d":7,"m":1},
{"b":4,"v":73,"d":20,"m":0},{"b":4,"v":74,"d":40,"m":0},{"b":4,"v":75,"d":50,"m":0},{"b":4,"v":76,"d":51,"m":0},{"b":4,"v":77,"d":42,"m":0},{"b":4,"v":78,"d":26,"m":0},{"b":4,"v":79,"d":13,"m":0},{"b":4,"v":80,"d":8,"m":0},{"b":4,"v":81,"d":7,"m":0},{"b":4,"v":82,"d":7,"m":0},{"b":4,"v":83,"d":7,"m":0},{"b":4,"v":84,"d":7,"m":0},{"b":4,"v":85,"d":7,"m":1},
{"b":3,"v":73,"d":20,"m":0},{"b":3,"v":74,"d":60,"m":0},{"b":3,"v":75,"d":86,"m":0},{"b":3,"v":76,"d":70,"m":0},{"b":3,"v":77,"d":35,"m":0},{"b":3,"v":78,"d":13,"m":0},{"b":3,"v":79,"d":7,"m":0},{"b":3,"v":80,"d":7,"m":0},{"b":3,"v":81,"d":7,"m":0},{"b":3,"v":82,"d":7,"m":0},{"b":3,"v":83,"d":7,"m":0},{"b":3,"v":84,"d":7,"m":0},{"b":3,"v":85,"d":7,"m":1},
{"b":2,"v":73,"d":20,"m":0},{"b":2,"v":74,"d":55,"m":0},{"b":2,"v":75,"d":75,"m":0},{"b":2,"v":76,"d":65,"m":0},{"b":2,"v":77,"d":35,"m":0},{"b":2,"v":78,"d":14,"m":0},{"b":2,"v":79,"d":8,"m":0},{"b":2,"v":80,"d":7,"m":0},{"b":2,"v":81,"d":7,"m":0},{"b":2,"v":82,"d":7,"m":0},{"b":2,"v":83,"d":7,"m":0},{"b":2,"v":84,"d":7,"m":0},{"b":2,"v":85,"d":7,"m":0},{"b":2,"v":86,"d":7,"m":0},{"b":2,"v":87,"d":7,"m":0},{"b":2,"v":88,"d":7,"m":0},{"b":2,"v":89,"d":7,"m":0},{"b":2,"v":90,"d":7,"m":0},{"b":2,"v":91,"d":7,"m":0},{"b":2,"v":92,"d":7,"m":0},{"b":2,"v":93,"d":7,"m":0},{"b":2,"v":94,"d":7,"m":0},{"b":2,"v":95,"d":7,"m":0},{"b":2,"v":96,"d":7,"m":0},{"b":2,"v":97,"d":7,"m":0},{"b":2,"v":98,"d":7,"m":0},{"b":2,"v":99,"d":7,"m":0},{"b":2,"v":100,"d":7,"m":0},{"b":2,"v":101,"d":7,"m":0},{"b":2,"v":102,"d":7,"m":0},{"b":2,"v":104,"d":7,"m":1},
{"b":1,"v":74,"d":25,"m":0},{"b":1,"v":75,"d":75,"m":0},{"b":1,"v":76,"d":86,"m":0},{"b":1,"v":77,"d":55,"m":0},{"b":1,"v":78,"d":20,"m":0},{"b":1,"v":79,"d":9,"m":0},{"b":1,"v":80,"d":7,"m":0},{"b":1,"v":81,"d":7,"m":0},{"b":1,"v":82,"d":7,"m":1}
]},
"encoding":{
"x":{"field":"v","type":"quantitative","scale":{"domain":[68,111.7],"nice":false,"zero":false},"axis":{"values":[70,80,90,100,110],"title":"Air Dose Rate (nGy/h)","labelPadding":2,"titlePadding":4}},
"y":{"field":"b","type":"ordinal","sort":"descending","scale":{"type":"point","padding":0.6},"axis":{"title":"Block No.","labelPadding":5,"titlePadding":8}}
},
"layer":[
{"mark":{"type":"trail","color":"#BEBEBE","opacity":1},
 "encoding":{"detail":{"field":"b"},"size":{"field":"d","type":"quantitative","scale":{"domain":[0,100],"range":[0,28]},"legend":null}}},
{"mark":{"type":"point","filled":false,"size":11,"opacity":1},
 "encoding":{"color":{"field":"m","type":"nominal","scale":{"domain":[1,0],"range":["#FF0000","#000000"]},
   "legend":{"title":"Data","orient":"none","legendX":283.7,"legendY":668.7,"padding":15,"strokeColor":"#000000","fillColor":"#ffffff","titleFontSize":17,"titleFontWeight":"normal","titleColor":"#000000","labelFontSize":17,"labelColor":"#000000","titlePadding":14,"rowPadding":20,"symbolSize":14,"symbolStrokeWidth":1.3,"symbolOffset":8,"labelOffset":17,"labelExpr":"datum.value == 1 ? 'Block Maxima' : 'Others'"}},
  "strokeWidth":{"field":"d","type":"quantitative","scale":{"domain":[7,60],"range":[1.4,2.8],"clamp":true},"legend":null}}}
]
}
